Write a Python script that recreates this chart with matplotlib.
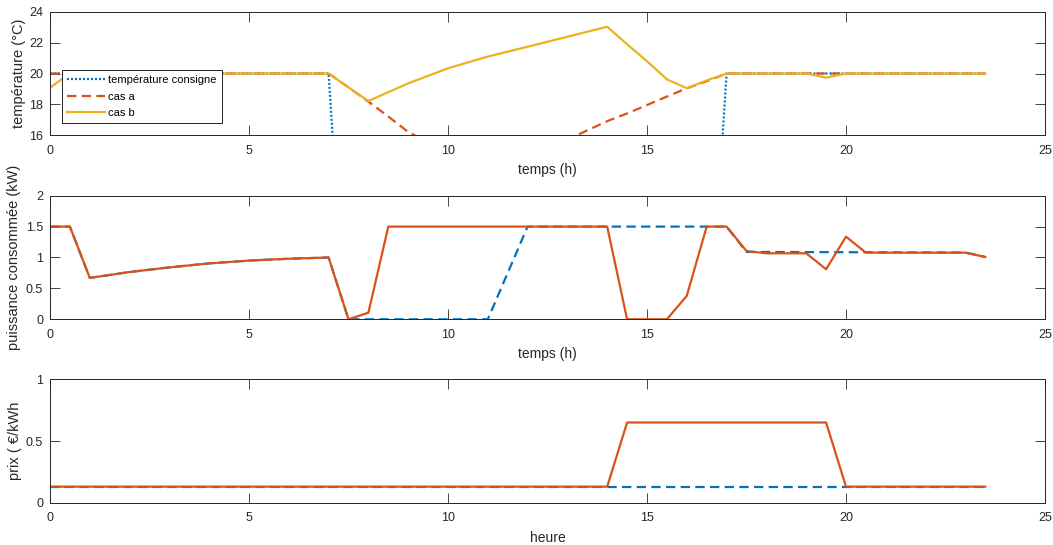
import matplotlib
matplotlib.use('Agg')
import matplotlib.pyplot as plt

# ---------------- data ----------------
# panel 1 : temperature (°C)
t_consigne = [0, 7, 7.5, 16.5, 17, 23.5]
T_consigne = [20, 20, 0, 0, 20, 20]

t_T_cas_a = [0, 7, 7.5, 8, 8.5, 9, 9.5, 10, 10.5, 11, 11.5, 12, 12.5, 13, 13.5,
             14, 14.5, 15, 15.5, 16, 16.5, 17, 23.5]
T_cas_a = [20, 20, 19.1, 18.17, 17.2, 16.2, 15.5, 15.0, 14.7, 14.5, 14.5, 14.7,
           15.2, 15.7, 16.3, 16.9, 17.4, 17.95, 18.5, 19.04, 19.5, 20, 20]

t_T_cas_b = [0, 0.5, 7, 7.5, 8, 9, 10, 11, 12, 13, 14, 14.5, 15, 15.5, 16, 16.5,
             17, 19, 19.5, 20, 23.5]
T_cas_b = [19.08, 20, 20, 19.1, 18.21, 19.36, 20.34, 21.1, 21.74, 22.39, 23.04,
           21.9, 20.8, 19.62, 19.04, 19.55, 20, 20, 19.73, 20, 20]

# panel 2 : puissance consommée (kW)
t_P_cas_a = [0, 0.5, 1, 2, 3, 4, 5, 6, 7, 7.5, 11, 12, 17, 17.5, 23, 23.5]
P_cas_a = [1.5, 1.5, 0.67, 0.765, 0.84, 0.905, 0.95, 0.98, 1.0, 0, 0, 1.5, 1.5,
           1.09, 1.08, 1.008]

t_P_cas_b = [0, 0.5, 1, 2, 3, 4, 5, 6, 7, 7.5, 8, 8.5, 14, 14.5, 15.5, 16, 16.5,
             17, 17.5, 18, 19, 19.5, 20, 20.5, 23, 23.5]
P_cas_b = [1.5, 1.5, 0.67, 0.765, 0.84, 0.905, 0.95, 0.98, 1.0, 0, 0.107, 1.5,
           1.5, 0, 0, 0.38, 1.5, 1.5, 1.105, 1.068, 1.068, 0.81, 1.337, 1.078,
           1.078, 1.008]

# panel 3 : prix (€/kWh)
t_prix_a = [0, 23.5]
prix_a = [0.13, 0.13]
t_prix_b = [0, 14, 14.5, 19.5, 20, 23.5]
prix_b = [0.13, 0.13, 0.65, 0.65, 0.13, 0.13]

labels_legend = ['température consigne', 'cas a', 'cas b']
xticks = [0, 5, 10, 15, 20, 25]

# ---------------- style ----------------
plt.rcParams['font.family'] = ['Liberation Sans', 'DejaVu Sans']
GRAY = (0.15, 0.15, 0.15)
BLUE = '#0072BD'
ORANGE = '#D95319'
YELLOW = '#EDB120'
LW = 1.6
DASH = (0, (4.2, 2.4))
DOT = (0, (0.9, 0.9))

fig = plt.figure(figsize=(10.53, 5.45), dpi=100)
L, W = 50 / 1053, 995 / 1053
ax1 = fig.add_axes([L, 1 - 135 / 545, W, 123 / 545])
ax2 = fig.add_axes([L, 1 - 319.3 / 545, W, 123.6 / 545])
ax3 = fig.add_axes([L, 1 - 502.7 / 545, W, 123.4 / 545])


def style(ax, yticks, ylim, ylabel, xlabel, ylab_x):
    ax.set_xlim(0, 25)
    ax.set_ylim(*ylim)
    ax.set_xticks(xticks)
    ax.set_yticks(yticks)
    ax.set_xticklabels([str(v) for v in xticks])
    ax.tick_params(direction='in', length=7, width=0.6, colors=GRAY,
                   labelsize=9, top=True, right=True, pad=7)
    ax.tick_params(axis='y', pad=5)
    for s in ax.spines.values():
        s.set_color(GRAY)
        s.set_linewidth(0.7)
    ax.set_ylabel(ylabel, fontsize=10.5, color=GRAY)
    ax.set_xlabel(xlabel, fontsize=10, color=GRAY, labelpad=4.5)
    ax.yaxis.set_label_coords(ylab_x, 0.5)


# panel 1
ax1.plot(t_consigne, T_consigne, color=BLUE, lw=LW, linestyle=DOT,
         label=labels_legend[0])
ax1.plot(t_T_cas_a, T_cas_a, color=ORANGE, lw=LW, linestyle=DASH,
         label=labels_legend[1])
ax1.plot(t_T_cas_b, T_cas_b, color=YELLOW, lw=LW, linestyle='-',
         label=labels_legend[2])
style(ax1, [16, 18, 20, 22, 24], (16, 24), 'température (°C)', 'temps (h)',
      -0.024)
leg = ax1.legend(loc='lower left', bbox_to_anchor=(0.0124, 0.095),
                 fontsize=8, frameon=True, fancybox=False, framealpha=1,
                 edgecolor='black', handlelength=3.4, handletextpad=0.3,
                 labelspacing=0.6, borderpad=0.45, borderaxespad=0)
leg.get_frame().set_linewidth(0.6)

# panel 2
ax2.plot(t_P_cas_a, P_cas_a, color=BLUE, lw=LW, linestyle=DASH)
ax2.plot(t_P_cas_b, P_cas_b, color=ORANGE, lw=LW, linestyle='-')
style(ax2, [0, 0.5, 1, 1.5, 2], (0, 2), 'puissance consommée (kW)', 'temps (h)',
      -0.029)
ax2.set_yticklabels(['0', '0.5', '1', '1.5', '2'])

# panel 3
ax3.plot(t_prix_a, prix_a, color=BLUE, lw=LW, linestyle=DASH)
ax3.plot(t_prix_b, prix_b, color=ORANGE, lw=LW, linestyle='-')
style(ax3, [0, 0.5, 1], (0, 1), 'prix ( €/kWh', 'heure', -0.028)
ax3.set_yticklabels(['0', '0.5', '1'])

fig.savefig('out.png', dpi=100, facecolor='white')
